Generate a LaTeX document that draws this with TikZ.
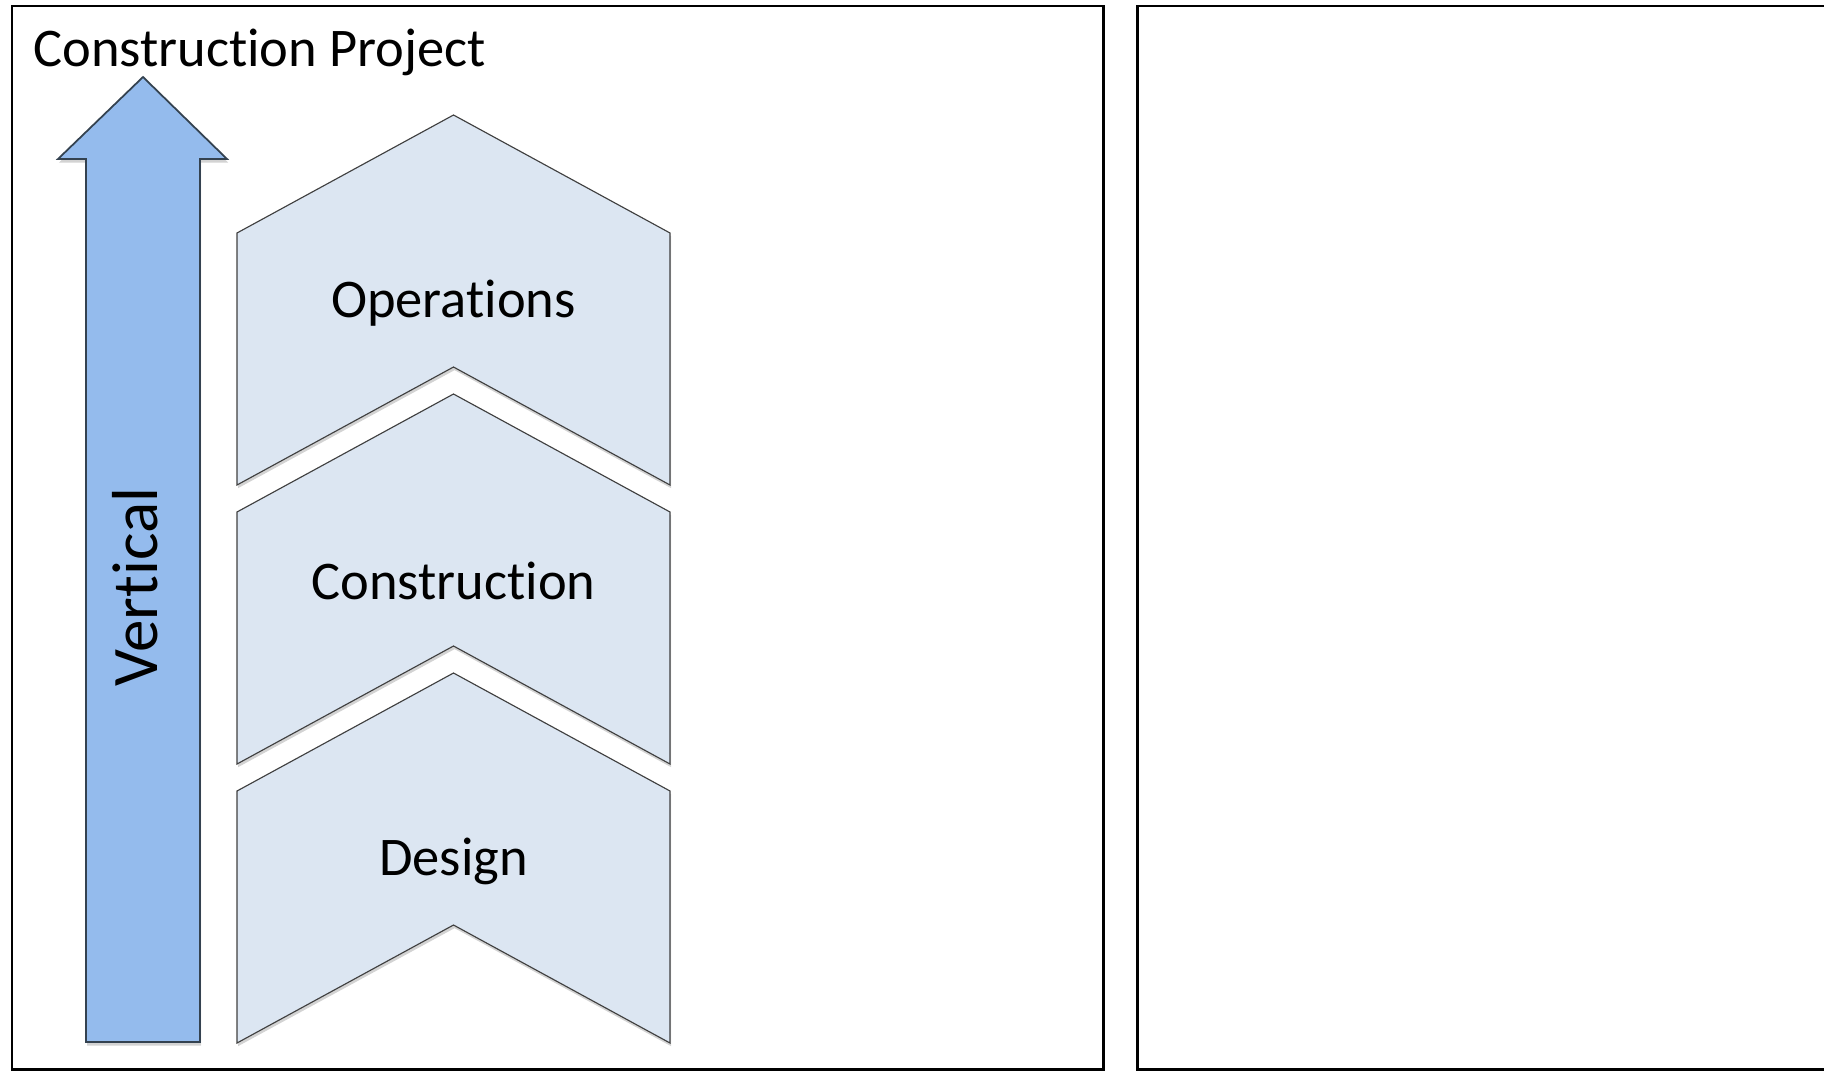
\documentclass[tikz,border=0pt]{standalone}
\usepackage{fontspec}
\setmainfont{Carlito}[Ligatures=NoCommon]
\usetikzlibrary{shadows}

\definecolor{arrowblue}{RGB}{148,187,237}
\definecolor{arrowline}{RGB}{52,66,80}
\definecolor{stagefill}{RGB}{220,230,242}

\begin{document}
\begin{tikzpicture}[x=0.02cm,y=-0.02cm,
	frame/.style={draw=black,line width=1.7pt},
	stage/.style={draw=black!75,fill=stagefill,line width=0.65pt,
		drop shadow={shadow xshift=0.6pt,shadow yshift=-1.8pt,opacity=0.35}},
	stagetext/.style={font=\fontsize{31}{37}\selectfont}]
	\useasboundingbox (0,0) rectangle (1824,1071);
	\clip (0,0) rectangle (1824,1071);
	\draw[frame] (12,6) rectangle (1103,1069);
	\draw[frame] (1137,6) rectangle (1880,1069);
	\node[stagetext,anchor=base west,inner sep=0pt] (title) at (33,67) {Construction Project};
	\draw[draw=arrowline,fill=arrowblue,line width=1pt,
		drop shadow={shadow xshift=0.6pt,shadow yshift=-2pt,opacity=0.35}]
		(86,1042) -- (86,159) -- (58,159) -- (143,77) -- (227,159) -- (200,159) -- (200,1042) -- cycle;
	\node[rotate=90,font=\fontsize{37}{44}\selectfont] (vert) at (135,587) {Vertical};
	\draw[stage] (237,233) -- (453.5,115) -- (670,233) -- (670,485) -- (453.5,367) -- (237,485) -- cycle;
	\draw[stage] (237,512) -- (453.5,394) -- (670,512) -- (670,764) -- (453.5,646) -- (237,764) -- cycle;
	\draw[stage] (237,791) -- (453.5,673) -- (670,791) -- (670,1043) -- (453.5,925) -- (237,1043) -- cycle;
	\node[stagetext] (ops) at (453.5,303) {Operations};
	\node[stagetext] (cons) at (453.5,581) {Construction};
	\node[stagetext] (design) at (453.5,861) {Design};
\end{tikzpicture}
\end{document}
